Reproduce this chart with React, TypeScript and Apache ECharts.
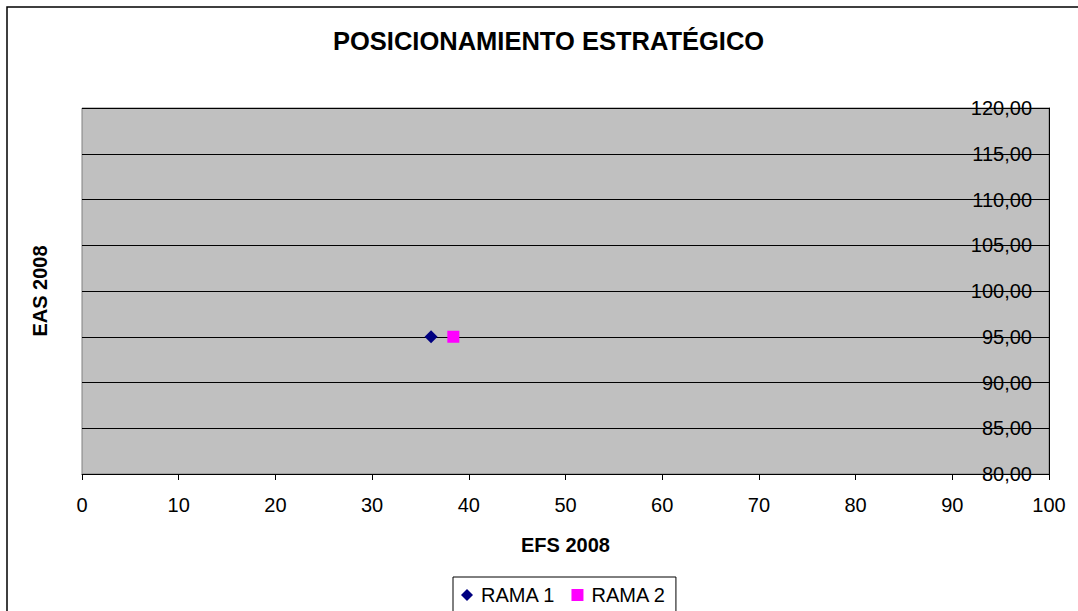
import React, { useEffect, useRef } from "react";
import * as echarts from "echarts";

const seriesNames = ["RAMA 1", "RAMA 2"];
const rama1: [number, number][] = [[36.1, 95]];
const rama2: [number, number][] = [[38.4, 95]];

const FONT = "'Liberation Sans', Arial, sans-serif";

const App: React.FC = () => {
  const chartRef = useRef<HTMLDivElement>(null);

  useEffect(() => {
    const dom = chartRef.current;
    if (!dom) return;
    const chart = echarts.init(dom, null, { renderer: "svg" });

    const option: echarts.EChartsOption = {
      animation: false,
      backgroundColor: "#ffffff",
      textStyle: { fontFamily: FONT },
      title: {
        text: "POSICIONAMIENTO ESTRATÉGICO",
        left: 333,
        top: 28,
        padding: 0,
        textStyle: { fontSize: 25.5, fontWeight: "bold", color: "#000", fontFamily: FONT },
      },
      grid: {
        left: 82,
        top: 108,
        right: 29,
        bottom: 137,
        show: true,
        backgroundColor: "#c0c0c0",
        borderColor: "#808080",
        borderWidth: 1,
      },
      xAxis: {
        type: "value",
        min: 0,
        max: 100,
        interval: 10,
        name: "EFS 2008",
        nameLocation: "middle",
        nameGap: 61,
        nameTextStyle: { fontSize: 20, fontWeight: "bold", color: "#000", fontFamily: FONT },
        axisLine: { show: true, lineStyle: { color: "#000", width: 1 } },
        axisTick: { show: true, length: 6, lineStyle: { color: "#000" } },
        axisLabel: { fontSize: 20, color: "#000", margin: 21, fontFamily: FONT },
        splitLine: { show: false },
      },
      yAxis: {
        type: "value",
        position: "right",
        min: 80,
        max: 120,
        interval: 5,
        axisLine: { show: true, onZero: false, lineStyle: { color: "#000", width: 1 } },
        axisTick: { show: false },
        axisLabel: {
          inside: true,
          margin: 17,
          fontSize: 20,
          color: "#000",
          fontFamily: FONT,
          formatter: (v: number) => v.toFixed(2).replace(".", ","),
        },
        splitLine: { show: true, lineStyle: { color: "#000", width: 1 } },
      },
      legend: {
        left: 453,
        top: 577,
        orient: "horizontal",
        borderColor: "#000",
        borderWidth: 1,
        padding: [8, 10, 8, 8],
        itemWidth: 12,
        itemHeight: 12,
        itemGap: 16,
        textStyle: { fontSize: 20, color: "#000", fontFamily: FONT, padding: [0, 0, 0, 3] },
        data: [
          { name: seriesNames[0], icon: "diamond" },
          { name: seriesNames[1], icon: "rect" },
        ],
      },
      graphic: [
        {
          type: "rect",
          shape: { x: 7, y: 7, width: 1200, height: 800 },
          style: { fill: "none", stroke: "#000", lineWidth: 1.5 },
          silent: true,
          z: -1,
        },
        {
          type: "text",
          x: 40,
          y: 291,
          rotation: Math.PI / 2,
          style: {
            text: "EAS 2008",
            fontSize: 20,
            fontWeight: "bold",
            fill: "#000",
            fontFamily: FONT,
            align: "center",
            verticalAlign: "middle",
          },
        },
      ],
      series: [
        {
          name: seriesNames[0],
          type: "scatter",
          symbol: "diamond",
          symbolSize: 13,
          itemStyle: { color: "#000080", opacity: 1 },
          data: rama1,
        },
        {
          name: seriesNames[1],
          type: "scatter",
          symbol: "rect",
          symbolSize: 12,
          itemStyle: { color: "#ff00ff", opacity: 1 },
          data: rama2,
        },
      ],
    };

    chart.setOption(option);
    return () => {
      chart.dispose();
    };
  }, []);

  return (
    <div
      ref={chartRef}
      style={{ position: "fixed", left: 0, top: 0, width: "1078px", height: "611px" }}
    />
  );
};

export default App;
